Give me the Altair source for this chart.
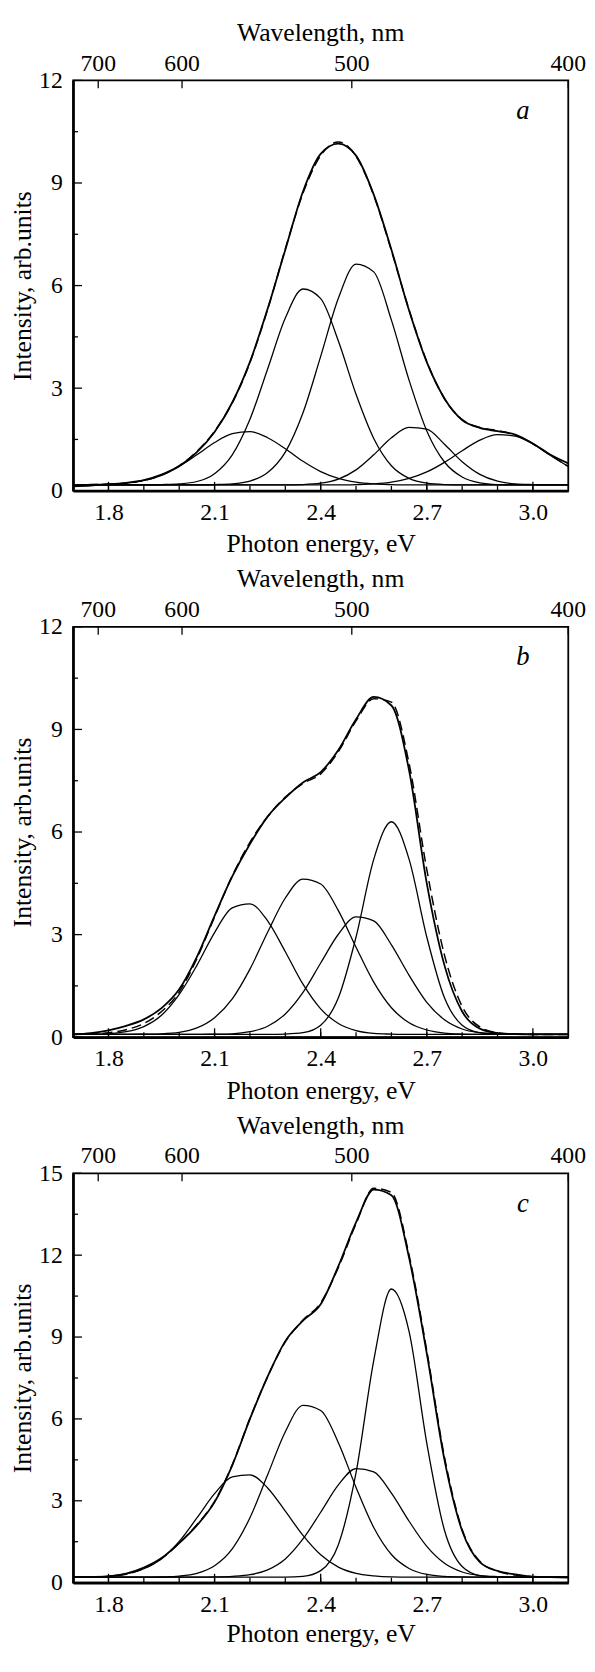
import altair as alt
import pandas as pd

FONT = "Liberation Serif"

# photon energy grid (eV)
energy = [1.70, 1.75, 1.80, 1.85, 1.90, 1.95, 2.00, 2.05, 2.10, 2.15, 2.20, 2.25, 2.30, 2.35, 2.40,
          2.45, 2.50, 2.55, 2.60, 2.65, 2.70, 2.75, 2.80, 2.85, 2.90, 2.95, 3.00, 3.05, 3.10]

# ---- panel a ----
a_measured = [0.13, 0.15, 0.19, 0.23, 0.31, 0.47, 0.72, 1.13, 1.72, 2.58, 3.77, 5.32, 7.05, 8.75, 9.85,
              10.15, 9.80, 8.66, 7.05, 5.27, 3.76, 2.70, 2.07, 1.84, 1.74, 1.64, 1.38, 1.05, 0.80]
a_fit = [0.17, 0.18, 0.19, 0.22, 0.30, 0.46, 0.73, 1.15, 1.74, 2.57, 3.75, 5.30, 7.07, 8.70, 9.80,
         10.20, 9.78, 8.64, 7.02, 5.29, 3.78, 2.69, 2.08, 1.85, 1.76, 1.63, 1.37, 1.04, 0.71]
a_g1 = [0.17, 0.18, 0.19, 0.22, 0.30, 0.45, 0.71, 1.05, 1.41, 1.67, 1.73, 1.55, 1.23, 0.86, 0.56,
        0.36, 0.25, 0.20, 0.18, 0.17, 0.17, 0.17, 0.17, 0.17, 0.17, 0.17, 0.17, 0.17, 0.17]
a_g2 = [0.17, 0.17, 0.17, 0.17, 0.17, 0.18, 0.20, 0.27, 0.50, 1.05, 2.09, 3.56, 5.05, 5.90, 5.62,
        4.38, 2.82, 1.53, 0.73, 0.36, 0.22, 0.18, 0.17, 0.17, 0.17, 0.17, 0.17, 0.17, 0.17]
a_g3 = [0.17, 0.17, 0.17, 0.17, 0.17, 0.17, 0.17, 0.17, 0.18, 0.20, 0.28, 0.53, 1.13, 2.28, 3.93,
        5.63, 6.63, 6.40, 4.99, 3.23, 1.75, 0.84, 0.40, 0.23, 0.18, 0.17, 0.17, 0.17, 0.17]
a_g4 = [0.17, 0.17, 0.17, 0.17, 0.17, 0.17, 0.17, 0.17, 0.17, 0.17, 0.17, 0.17, 0.17, 0.18, 0.22,
        0.34, 0.61, 1.05, 1.55, 1.85, 1.80, 1.36, 0.85, 0.48, 0.28, 0.20, 0.18, 0.17, 0.17]
a_g5 = [0.17, 0.17, 0.17, 0.17, 0.17, 0.17, 0.17, 0.17, 0.17, 0.17, 0.17, 0.17, 0.17, 0.17, 0.17,
        0.17, 0.18, 0.20, 0.25, 0.36, 0.55, 0.83, 1.17, 1.48, 1.64, 1.60, 1.37, 1.03, 0.71]

# ---- panel b ----
b_measured = [0.08, 0.12, 0.20, 0.33, 0.52, 0.85, 1.40, 2.35, 3.55, 4.70, 5.65, 6.45, 7.00, 7.45, 7.75,
              8.40, 9.30, 9.95, 9.70, 7.80, 4.50, 2.10, 0.75, 0.25, 0.12, 0.09, 0.08, 0.08, 0.08]
b_fit = [0.08, 0.09, 0.13, 0.22, 0.40, 0.75, 1.32, 2.30, 3.52, 4.72, 5.70, 6.45, 7.02, 7.42, 7.70,
         8.35, 9.25, 9.90, 9.80, 8.00, 4.90, 2.40, 0.90, 0.30, 0.13, 0.09, 0.08, 0.08, 0.08]
b_g1 = [0.08, 0.09, 0.10, 0.16, 0.31, 0.64, 1.25, 2.10, 3.06, 3.78, 3.90, 3.40, 2.50, 1.55, 0.83,
        0.40, 0.19, 0.11, 0.09, 0.08, 0.08, 0.08, 0.08, 0.08, 0.08, 0.08, 0.08, 0.08, 0.08]
b_g2 = [0.08, 0.08, 0.08, 0.08, 0.09, 0.10, 0.14, 0.27, 0.57, 1.12, 1.99, 3.07, 4.07, 4.62, 4.48,
        3.70, 2.63, 1.61, 0.86, 0.42, 0.21, 0.12, 0.09, 0.08, 0.08, 0.08, 0.08, 0.08, 0.08]
b_g3 = [0.08, 0.08, 0.08, 0.08, 0.08, 0.08, 0.08, 0.08, 0.09, 0.10, 0.16, 0.32, 0.68, 1.31, 2.17,
        3.01, 3.52, 3.40, 2.70, 1.81, 1.02, 0.51, 0.24, 0.13, 0.09, 0.08, 0.08, 0.08, 0.08]
b_g4 = [0.08, 0.08, 0.08, 0.08, 0.08, 0.08, 0.08, 0.08, 0.08, 0.08, 0.08, 0.08, 0.09, 0.13, 0.35,
        1.15, 2.93, 5.20, 6.30, 5.20, 2.93, 1.15, 0.35, 0.13, 0.09, 0.08, 0.08, 0.08, 0.08]

# ---- panel c ----
c_measured = [0.20, 0.21, 0.23, 0.33, 0.55, 0.90, 1.45, 2.10, 2.95, 4.30, 6.00, 7.55, 8.85, 9.60, 10.20,
              11.60, 13.20, 14.40, 14.20, 11.90, 8.40, 4.50, 1.90, 0.75, 0.43, 0.30, 0.22, 0.20, 0.18]
c_fit = [0.20, 0.21, 0.23, 0.31, 0.52, 0.88, 1.45, 2.12, 2.98, 4.32, 6.02, 7.55, 8.82, 9.62, 10.25,
         11.55, 13.15, 14.45, 14.30, 12.00, 8.50, 4.60, 1.95, 0.78, 0.42, 0.28, 0.22, 0.20, 0.20]
c_g1 = [0.20, 0.21, 0.24, 0.32, 0.51, 0.88, 1.51, 2.37, 3.26, 3.88, 3.95, 3.47, 2.62, 1.73, 1.02,
        0.57, 0.34, 0.25, 0.21, 0.20, 0.20, 0.20, 0.20, 0.20, 0.20, 0.20, 0.20, 0.20, 0.20]
c_g2 = [0.20, 0.20, 0.20, 0.20, 0.20, 0.21, 0.24, 0.34, 0.62, 1.24, 2.38, 3.95, 5.53, 6.50, 6.31,
        5.13, 3.49, 2.02, 1.03, 0.52, 0.30, 0.23, 0.21, 0.20, 0.20, 0.20, 0.20, 0.20, 0.20]
c_g3 = [0.20, 0.20, 0.20, 0.20, 0.20, 0.20, 0.20, 0.20, 0.21, 0.23, 0.29, 0.47, 0.87, 1.60, 2.58,
        3.58, 4.18, 4.06, 3.28, 2.25, 1.33, 0.71, 0.39, 0.26, 0.22, 0.20, 0.20, 0.20, 0.20]
c_g4 = [0.20, 0.20, 0.20, 0.20, 0.20, 0.20, 0.20, 0.20, 0.20, 0.20, 0.20, 0.20, 0.20, 0.23, 0.44,
        1.39, 4.03, 8.14, 10.76, 9.20, 5.11, 1.92, 0.59, 0.26, 0.21, 0.20, 0.20, 0.20, 0.20]

# ---- axes ----
top_tick_ev = [1.771, 2.008, 2.488, 3.100]      # where the wavelength ticks sit on the energy axis
top_tick_nm = ["700", "600", "500", "400"]
x_major = [1.8, 2.1, 2.4, 2.7, 3.0]
x_minor = [1.8, 1.9, 2.0, 2.1, 2.2, 2.3, 2.4, 2.5, 2.6, 2.7, 2.8, 2.9, 3.0]
y_major_12 = [0, 3, 6, 9, 12]
y_minor_12 = [1.5, 4.5, 7.5, 10.5]
y_major_15 = [0, 3, 6, 9, 12, 15]
y_minor_15 = [1.5, 4.5, 7.5, 10.5, 13.5]

W = 502


def panel(letter, measured, fit, comps, ymax, ymaj, ymin, H, bottom_title_y):
    xs = alt.Scale(domain=[1.7, 3.1], nice=False, zero=False)
    ys = alt.Scale(domain=[0, ymax], nice=False, zero=False)
    xaxis = alt.Axis(values=x_major, format=".1f", title="Photon energy, eV",
                     ticks=False, tickSize=0, grid=False, domain=True, domainColor="black",
                     domainWidth=2.6, labelPadding=29, labelBaseline="alphabetic",
                     labelFlush=False, labelOverlap=False, labelFontSize=24,
                     labelFont=FONT, titleFont=FONT, titleFontWeight="normal",
                     labelColor="black", titleColor="black",
                     titleFontSize=26, titleY=bottom_title_y, titleBaseline="alphabetic")
    yaxis = alt.Axis(values=ymaj, title="Intensity, arb.units", ticks=False, tickSize=0,
                     grid=False, domain=True, domainColor="black", domainWidth=2.6,
                     labelPadding=11, labelFontSize=24, labelOverlap=False,
                     labelFont=FONT, titleFont=FONT, titleFontWeight="normal",
                     labelColor="black", titleColor="black",
                     titleFontSize=26, titleX=-43, titleY=H / 2, titleAngle=270,
                     titleAlign="center", titleBaseline="alphabetic")
    X = alt.X("E:Q", scale=xs, axis=xaxis)
    Y = alt.Y("I:Q", scale=ys, axis=yaxis)

    df_m = pd.DataFrame({"E": energy, "I": measured})
    df_f = pd.DataFrame({"E": energy, "I": fit})
    rows = []
    for k, comp in enumerate(comps):
        for e, v in zip(energy, comp):
            rows.append({"E": e, "I": v, "comp": k})
    df_c = pd.DataFrame(rows)

    comp_l = alt.Chart(df_c).mark_line(color="black", strokeWidth=1.3, interpolate="monotone").encode(
        x=X, y=Y, detail="comp:N")
    meas_l = alt.Chart(df_m).mark_line(color="black", strokeWidth=1.8, interpolate="monotone").encode(x=X, y=Y)
    fit_l = alt.Chart(df_f).mark_line(color="black", strokeWidth=1.5, strokeDash=[10, 5],
                                      interpolate="monotone").encode(x=X, y=Y)

    bmaj = alt.Chart(pd.DataFrame({"E": x_major})).mark_rule(color="black", strokeWidth=1.3).encode(
        x=X, y=alt.value(H), y2=alt.value(H - 9))
    bmin = alt.Chart(pd.DataFrame({"E": x_minor})).mark_rule(color="black", strokeWidth=1.3).encode(
        x=X, y=alt.value(H), y2=alt.value(H - 5))
    tmaj = alt.Chart(pd.DataFrame({"E": top_tick_ev})).mark_rule(color="black", strokeWidth=1.3).encode(
        x=X, y=alt.value(0), y2=alt.value(8))
    # right-aligned and shifted by half a label width, so each label sits centred on its tick
    tlab = alt.Chart(pd.DataFrame({"E": top_tick_ev, "nm": top_tick_nm})).mark_text(
        font=FONT, fontSize=24, align="right", dx=18, baseline="alphabetic", color="black").encode(
        x=X, y=alt.value(-10), text="nm:N")
    ttitle = alt.Chart(pd.DataFrame({"t": ["Wavelength, nm"]})).mark_text(
        font=FONT, fontSize=26, align="center", baseline="alphabetic", color="black").encode(
        x=alt.value(W / 2), y=alt.value(-40), text="t:N")
    lmaj = alt.Chart(pd.DataFrame({"I": ymaj})).mark_rule(color="black", strokeWidth=1.3).encode(
        y=Y, x=alt.value(0), x2=alt.value(9))
    lmin = alt.Chart(pd.DataFrame({"I": ymin})).mark_rule(color="black", strokeWidth=1.3).encode(
        y=Y, x=alt.value(0), x2=alt.value(5))
    lab = alt.Chart(pd.DataFrame({"t": [letter]})).mark_text(
        font=FONT, fontSize=27, fontStyle="italic", align="center", baseline="alphabetic",
        color="black").encode(text="t:N", x=alt.value(W - 46), y=alt.value(39))

    return alt.layer(comp_l, fit_l, meas_l, bmaj, bmin, tmaj, tlab, ttitle, lmaj, lmin, lab).properties(
        width=W, height=H)


pa = panel("a", a_measured, a_fit, [a_g1, a_g2, a_g3, a_g4, a_g5], 12, y_major_12, y_minor_12, 416, 62)
pb = panel("b", b_measured, b_fit, [b_g1, b_g2, b_g3, b_g4], 12, y_major_12, y_minor_12, 416, 62)
pc = panel("c", c_measured, c_fit, [c_g1, c_g2, c_g3, c_g4], 15, y_major_15, y_minor_15, 415, 60)

chart = alt.vconcat(pa, pb, pc, spacing=138, bounds="flush").properties(
    padding={"left": 1, "top": 0, "right": 0, "bottom": 0}
).configure(background="white").configure_view(
    stroke="black", strokeWidth=1.8, fill="white"
).configure_axis(
    labelFont=FONT, titleFont=FONT, labelColor="black", titleColor="black",
    titleFontWeight="normal"
)

chart.save("out.html", embed_options={"renderer": "svg", "actions": False})
